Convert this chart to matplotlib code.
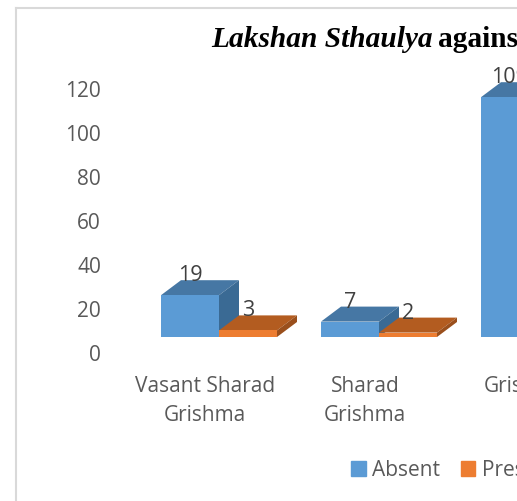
import matplotlib
matplotlib.use('Agg')
import matplotlib.pyplot as plt
from matplotlib.lines import Line2D
from matplotlib.patches import Patch, Polygon

categories = ['Vasant Sharad\nGrishma', 'Sharad\nGrishma', 'Grishma']
absent = [19, 7, 109]
present = [3, 2, 2]
y_ticks = [0, 20, 40, 60, 80, 100, 120]

PX_Y = 2.2      # pixels per unit on the value axis
PX_X = 160.0    # pixels per category
BASE = 16 / PX_Y
DEPTH_X = 20 / PX_X
DEPTH_Y = 15 / PX_Y
BAR_W = 58 / PX_X
TEXT = '#595959'


def draw_box(ax, x0, value, front, top, side, z):
    y0 = BASE
    y1 = BASE + value
    x1 = x0 + BAR_W
    ax.bar(x0, value, BAR_W, bottom=y0, align='edge', color=front, zorder=z + 0.2)
    ax.add_patch(Polygon([(x0, y1), (x1, y1), (x1 + DEPTH_X, y1 + DEPTH_Y), (x0 + DEPTH_X, y1 + DEPTH_Y)],
                         closed=True, color=top, lw=0, zorder=z))
    ax.add_patch(Polygon([(x1, y0), (x1 + DEPTH_X, y0 + DEPTH_Y), (x1 + DEPTH_X, y1 + DEPTH_Y), (x1, y1)],
                         closed=True, color=side, lw=0, zorder=z))
    ax.annotate(str(value), (x0 + BAR_W / 2, y1), xytext=(0, 19.5 * 0.72), textcoords='offset points',
                ha='center', va='center', fontsize=15.5, color='#404040', zorder=5)


fig = plt.figure(figsize=(5.17, 5.01), dpi=100)
plt.rcParams['font.family'] = ['Open Sans', 'DejaVu Sans']

# axes box in pixels: left 112, right 620 (past the edge like the source crop), top 20, bottom 353
ax = fig.add_axes([112 / 517, (501 - 353) / 501, (620 - 112) / 517, (353 - 20) / 501])
ax.patch.set_visible(False)
for s in ax.spines.values():
    s.set_visible(False)

# orange goes over the blue side face, group 0 starts 44 px left of the label centre
for i in range(len(categories)):
    x_blue = i - 44 / PX_X
    draw_box(ax, x_blue, absent[i], '#5B9BD5', '#4677A4', '#3A6A94', 2)
    draw_box(ax, x_blue + BAR_W, present[i], '#ED7D31', '#B35C20', '#9A4F1C', 3)

ax.set_yticks(y_ticks)
ax.set_xticks(range(len(categories)))
ax.set_xticklabels(categories, linespacing=1.5)
ax.set_xlim((112 - 205) / PX_X, (620 - 205) / PX_X)
ax.set_ylim(0, (353 - 20) / PX_Y)
ax.tick_params(axis='y', length=0, pad=8, labelsize=15, labelcolor=TEXT)
ax.tick_params(axis='x', length=0, pad=16.5, labelsize=15, labelcolor=TEXT)

# title runs off the right edge, two styles so two texts
t1 = fig.text(211 / 517, 1 - 39 / 501, 'Lakshan Sthaulya', family='Liberation Serif', style='italic',
              weight='bold', fontsize=21.2, color='black', va='center', ha='left')
fig.canvas.draw()
end = t1.get_window_extent().x1
fig.text((end + 5) / 517, 1 - 39 / 501, 'against', family='Liberation Serif', weight='bold',
         fontsize=21.2, color='black', va='center', ha='left')

# chart frame
fig.add_artist(Line2D([16 / 517, 16 / 517], [0, 1 - 8 / 501], color='#D9D9D9', lw=1.5))
fig.add_artist(Line2D([16 / 517, 1], [1 - 8 / 501, 1 - 8 / 501], color='#D9D9D9', lw=1.5))

handles = [Patch(color='#5B9BD5', label='Absent'), Patch(color='#ED7D31', label='Present')]
fig.legend(handles=handles, ncol=2, loc='lower left', bbox_to_anchor=(347 / 517, 1 - 485 / 501), frameon=False,
           fontsize=15, labelcolor=TEXT, handlelength=0.7, handleheight=0.7, handletextpad=0.3,
           columnspacing=1.0, borderaxespad=0, borderpad=0.2)

fig.savefig('out.png', dpi=100)
